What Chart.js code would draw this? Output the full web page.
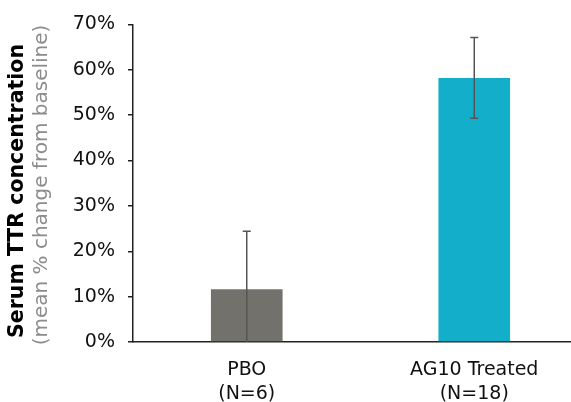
<!DOCTYPE html>
<html>
<head>
<meta charset="utf-8">
<script src="https://cdn.jsdelivr.net/npm/chart.js@4"></script>
<style>
  html, body { margin: 0; padding: 0; background: #fff; overflow: hidden; }
  #wrap { width: 571px; height: 402px; overflow: hidden; position: relative; }
  #wrap canvas { position: absolute; left: 0; top: 0; }
</style>
</head>
<body>
<div id="wrap"><canvas id="c" width="592" height="402" style="width:592px;height:402px"></canvas></div>
<script>
// ---- data ------------------------------------------------------------------
const CATEGORIES = [['PBO', '(N=6)'], ['AG10 Treated', '(N=18)']];
const MEANS      = [11.6, 58.2];   // mean % change from baseline
const ERR_PLUS   = [12.8, 8.9];
const ERR_MINUS  = [12.8, 8.9];
const Y_TICKS    = [0, 10, 20, 30, 40, 50, 60, 70];

const BAR_COLORS = ['#72716c', '#13afca'];
const ERR_COLOR  = '#555555';
const FONT = '"DejaVu Sans", "Liberation Sans", Arial, sans-serif';

// Error bars drawn on top of the bars, clipped to the plot area
const errorBarPlugin = {
  id: 'errorBars',
  afterDatasetsDraw(chart) {
    const { ctx, chartArea, scales } = chart;
    const meta = chart.getDatasetMeta(0);
    ctx.save();
    ctx.beginPath();
    ctx.rect(chartArea.left, chartArea.top, chartArea.right - chartArea.left, chartArea.bottom - chartArea.top);
    ctx.clip();
    ctx.strokeStyle = ERR_COLOR;
    ctx.lineWidth = 1.5;
    meta.data.forEach((bar, i) => {
      const x = bar.x;
      const yHi = scales.y.getPixelForValue(MEANS[i] + ERR_PLUS[i]);
      const yLo = scales.y.getPixelForValue(MEANS[i] - ERR_MINUS[i]);
      ctx.beginPath();
      ctx.moveTo(x, yHi); ctx.lineTo(x, yLo);
      ctx.moveTo(x - 4, yHi); ctx.lineTo(x + 4, yHi);
      ctx.moveTo(x - 4, yLo); ctx.lineTo(x + 4, yLo);
      ctx.stroke();
    });
    ctx.restore();
  },
};

// Two-colour rotated y-axis title
const yTitlePlugin = {
  id: 'yTitle',
  afterDraw(chart) {
    const { ctx } = chart;
    ctx.save();
    ctx.rotate(-Math.PI / 2);
    ctx.textAlign = 'center';
    ctx.textBaseline = 'middle';
    ctx.font = `bold 20.5px ${FONT}`;
    ctx.fillStyle = '#000';
    ctx.fillText('Serum TTR concentration', -191, 18);
    ctx.font = `20px ${FONT}`;
    ctx.fillStyle = '#8c8c8c';
    ctx.fillText('(mean % change from baseline)', -185, 42);
    ctx.restore();
  },
};

new Chart(document.getElementById('c').getContext('2d'), {
  type: 'bar',
  data: {
    labels: CATEGORIES,
    datasets: [{
      data: MEANS,
      backgroundColor: BAR_COLORS,
      borderWidth: 0,
      categoryPercentage: 0.63,
      barPercentage: 0.5,
    }],
  },
  plugins: [errorBarPlugin, yTitlePlugin],
  options: {
    responsive: false,
    animation: false,
    layout: { padding: { top: 23, right: 4, left: 0, bottom: 0 } },
    plugins: { legend: { display: false }, tooltip: { enabled: false } },
    scales: {
      x: {
        afterFit(scale) { scale.height = 60; },
        grid: { display: false, drawTicks: false },
        border: { display: true, color: '#222', width: 1.5 },
        ticks: { color: '#111', padding: 16, font: { size: 19, family: FONT, lineHeight: 1.26 } },
      },
      y: {
        min: 0, max: 70,
        afterFit(scale) { scale.width = 133; },
        afterBuildTicks(scale) { scale.ticks = Y_TICKS.map(v => ({ value: v })); },
        grid: {
          drawOnChartArea: false,
          tickLength: 5,
          color: '#222',
          lineWidth: 1.5,
        },
        border: { display: true, color: '#222', width: 1.5 },
        ticks: {
          color: '#111', padding: 13,
          font: { size: 19, family: FONT },
          callback: v => v + '%',
        },
      },
    },
  },
});
</script>
</body>
</html>
